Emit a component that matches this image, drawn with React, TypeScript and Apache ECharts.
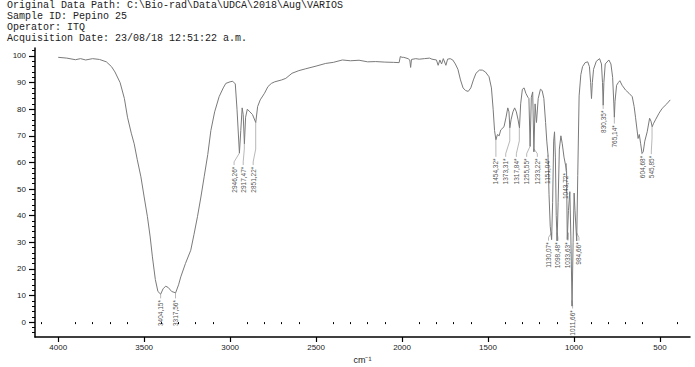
import React, { useEffect, useRef } from "react";
import * as echarts from "echarts";

const headerLines = [
  "Original Data Path: C:\\Bio-rad\\Data\\UDCA\\2018\\Aug\\VARIOS",
  "Sample ID: Pepino 25",
  "Operator: ITQ",
  "Acquisition Date: 23/08/18 12:51:22 a.m.",
];

const wavenumbers = [
  4000, 3950, 3900, 3870, 3840, 3800, 3760, 3720, 3690, 3670, 3640, 3615, 3597, 3575, 3558, 3540,
  3519, 3500, 3481, 3465, 3452, 3435, 3420, 3404, 3390, 3375, 3360, 3340, 3317, 3300, 3287, 3260,
  3229, 3210, 3190, 3170, 3151, 3130, 3112, 3090, 3064, 3040, 3025, 3000, 2985, 2970, 2960, 2946,
  2938, 2930, 2924, 2917, 2910, 2900, 2885, 2870, 2851, 2840, 2825, 2800, 2780, 2760, 2740, 2700,
  2676, 2640, 2600, 2560, 2500, 2444, 2400, 2347, 2300, 2250, 2200, 2153, 2100, 2050, 2017, 2010,
  2000, 1990, 1965, 1955, 1950, 1945, 1920, 1900, 1870, 1840, 1826, 1800, 1790, 1780, 1770, 1760,
  1745, 1735, 1720, 1705, 1690, 1675, 1660, 1645, 1630, 1615, 1600, 1585, 1570, 1550, 1533, 1515,
  1494, 1480, 1470, 1462, 1454, 1445, 1435, 1426, 1407, 1395, 1385, 1378, 1373, 1366, 1355, 1345,
  1335, 1325, 1317, 1310, 1300, 1290, 1280, 1268, 1262, 1255, 1248, 1240, 1233, 1226, 1218, 1208,
  1195, 1185, 1175, 1165, 1158, 1151, 1145, 1138, 1130, 1124, 1118, 1113, 1108, 1103, 1098, 1092,
  1085, 1076, 1068, 1058, 1049, 1043, 1039, 1032, 1024, 1018, 1011, 1005, 999, 994, 984, 978,
  970, 960, 950, 935, 920, 910, 903, 898, 893, 886, 870, 851, 840, 834, 830, 826,
  818, 797, 785, 775, 768, 765, 761, 752, 742, 733, 720, 700, 680, 661, 650, 642,
  627, 620, 612, 604, 597, 588, 574, 560, 552, 545, 538, 526, 505, 487, 460, 440,
];

const transmittance = [
  99.5, 99.2, 98.6, 99, 98.5, 99, 98.7, 97.8, 96, 94, 90, 84, 77, 71, 67, 61,
  54.6, 47, 39.6, 32, 24.5, 16, 11.5, 10.5, 12.5, 13.5, 13, 11.5, 11, 14, 17, 22,
  27, 33, 39.6, 47, 54.6, 63, 72, 79, 84.7, 88, 89.7, 90.3, 90.5, 89.5, 80, 63.5,
  72, 80.5, 78, 67, 77, 80, 79, 78, 75, 81, 83.5, 86, 88.5, 89.7, 90.3, 91,
  91.6, 93.5, 94.5, 95.2, 96.2, 97.2, 97.6, 98.5, 98.2, 98.4, 97.8, 97.9, 97.7, 97.6, 97.5, 99.8,
  99.5, 99.5, 99, 98.5, 95.7, 98.7, 99, 98.8, 99, 99.2, 98.8, 98.5, 96.5, 98.5, 97, 99,
  96.5, 98.8, 99, 98.5, 97, 95, 91, 88, 87, 86.7, 88, 91, 93.5, 94.7, 94.7, 94,
  92.2, 88, 80, 72, 68.5, 70.5, 70, 72.2, 73.4, 77, 80.5, 79, 73, 76, 79, 80.5,
  79, 76, 73, 82, 87.5, 88, 86, 84.5, 84, 66, 84.5, 86.5, 64, 82, 75, 84,
  87.5, 87, 84, 75, 68, 63, 48, 36, 31, 45, 68, 71.5, 62, 40, 30.5, 45,
  65, 70, 67, 62, 59, 57, 31, 42, 49, 32, 6, 30, 48.5, 42, 30.5, 55,
  85, 93, 96, 97.5, 97.8, 96, 90, 84, 90, 95, 98, 99, 97, 90, 81.5, 90,
  97, 98.5, 97, 92, 82, 77, 83, 89, 90, 90.7, 89, 87.2, 86, 84.7, 81, 77,
  69, 70.5, 67, 63.4, 64, 68, 71.5, 76.6, 75.5, 73.4, 74.5, 76, 78.5, 80.3, 82, 83.5,
];

const peakLabels = [
  "3404,15*", "3317,56*", "2946,26*", "2917,47*", "2851,22*", "1454,32*", "1373,31*",
  "1317,84*", "1255,55*", "1233,22*", "1151,04*", "1130,07*", "1098,48*", "1043,72*",
  "1033,63*", "1011,66*", "984,66*", "830,35*", "765,14*", "604,68*", "545,85*",
];
const peakWavenumbers = [
  3404.15, 3317.56, 2946.26, 2917.47, 2851.22, 1454.32, 1373.31, 1317.84, 1255.55, 1233.22,
  1151.04, 1130.07, 1098.48, 1043.72, 1033.63, 1011.66, 984.66, 830.35, 765.14, 604.68, 545.85,
];
const peakValues = [
  10.5, 11, 63.5, 67, 75, 68.5, 73, 73, 66, 64, 63, 31, 30.5, 57, 31, 6, 30.5, 81.5, 77, 63.4, 73.4,
];
const labelWavenumbers = [
  3404.15, 3317.56, 2977, 2924, 2866, 1454, 1397, 1335, 1275, 1213, 1151, 1148, 1093, 1047,
  1035, 1008, 971, 830, 765, 604, 550,
];
const labelValues = [
  8.3, 8.3, 58.4, 58.4, 58.4, 61.5, 61.5, 61.5, 61.5, 61.5, 61.5, 30, 30, 56, 30, 4.5, 30,
  79.5, 74, 62.5, 62.5,
];

const xMajorTicks = [4000, 3500, 3000, 2500, 2000, 1500, 1000, 500];
const xMinorTicks = [
  4100, 3900, 3800, 3700, 3600, 3400, 3300, 3200, 3100, 2900, 2800, 2700, 2600, 2400, 2300,
  2200, 2100, 1900, 1800, 1700, 1600, 1400, 1300, 1200, 1100, 900, 800, 700, 600, 400,
];
const yMajorTicks = [0, 10, 20, 30, 40, 50, 60, 70, 80, 90, 100];
const yMinorTicks = [
  -4, -2, 2, 4, 6, 8, 12, 14, 16, 18, 22, 24, 26, 28, 32, 34, 36, 38, 42, 44, 46, 48, 52, 54,
  56, 58, 62, 64, 66, 68, 72, 74, 76, 78, 82, 84, 86, 88, 92, 94, 96, 98, 102,
];

const X_MIN = 325;
const X_MAX = 4135;
const Y_MIN = -5.6;
const Y_MAX = 103;

export default function App() {
  const ref = useRef<HTMLDivElement>(null);
  useEffect(() => {
    if (!ref.current) return;
    const chart = echarts.init(ref.current, undefined, { renderer: "svg" });
    const sans = "'Liberation Sans', Arial, sans-serif";
    const narrow = "'Liberation Sans Narrow', 'Liberation Sans', Arial, sans-serif";

    const lineData = wavenumbers.map((w, i) => [w, transmittance[i]]);
    const leaderData = peakWavenumbers.map((w, i) => {
      const lw = labelWavenumbers[i];
      const lv = labelValues[i] + 0.6;
      const v = peakValues[i];
      const coords: number[][] = [[w, v]];
      if (Math.abs(lw - w) > 1) {
        coords.push([w, Math.max(lv + 3, Math.min(v, lv + 6))]);
        coords.push([lw, lv + 1.2]);
      }
      coords.push([lw, lv]);
      return { coords };
    });
    const labelData = labelWavenumbers.map((w, i) => [w, labelValues[i], peakLabels[i]]);

    const baseX = {
      type: "value",
      inverse: true,
      min: X_MIN,
      max: X_MAX,
      position: "bottom",
      splitLine: { show: false },
    };
    const baseY = {
      type: "value",
      min: Y_MIN,
      max: Y_MAX,
      position: "left",
      splitLine: { show: false },
    };

    chart.setOption({
      animation: false,
      backgroundColor: "#ffffff",
      grid: { left: 35, right: 5, top: 48, bottom: 30, outerBoundsMode: "none", containLabel: false },
      graphic: [
        {
          type: "text",
          left: 7,
          top: 0,
          style: {
            text: headerLines.join("\n"),
            font: "10px 'Liberation Mono', 'DejaVu Sans Mono', monospace",
            lineHeight: 11,
            fill: "#222",
          },
        },
      ],
      xAxis: [
        {
          ...baseX,
          name: "cm⁻¹",
          nameLocation: "middle",
          nameGap: 17,
          nameTextStyle: { fontSize: 9, color: "#222", fontFamily: sans },
          axisLine: { show: true, onZero: false, lineStyle: { color: "#000", width: 1.5 } },
          axisTick: { show: true, customValues: xMajorTicks, length: 5, lineStyle: { color: "#000", width: 1.2 } },
          axisLabel: {
            show: true,
            customValues: xMajorTicks,
            fontSize: 8,
            color: "#222",
            margin: 6,
            fontFamily: sans,
            formatter: (v: number) => String(v),
          },
        },
        {
          ...baseX,
          axisLine: { show: false },
          axisTick: { show: true, customValues: xMinorTicks, length: 2, lineStyle: { color: "#000", width: 1 } },
          axisLabel: { show: false },
        },
      ],
      yAxis: [
        {
          ...baseY,
          axisLine: { show: true, onZero: false, lineStyle: { color: "#000", width: 1.5 } },
          axisTick: { show: true, customValues: yMajorTicks, length: 6, lineStyle: { color: "#000", width: 1.2 } },
          axisLabel: {
            show: true,
            customValues: yMajorTicks,
            fontSize: 8,
            color: "#222",
            margin: 9,
            fontFamily: sans,
            formatter: (v: number) => String(v),
          },
        },
        {
          ...baseY,
          axisLine: { show: false },
          axisTick: { show: true, customValues: yMinorTicks, length: 3, lineStyle: { color: "#000", width: 1 } },
          axisLabel: { show: false },
        },
      ],
      series: [
        {
          type: "line",
          xAxisIndex: 0,
          yAxisIndex: 0,
          data: lineData,
          showSymbol: false,
          symbol: "none",
          lineStyle: { color: "#7a7a7a", width: 1 },
          z: 3,
        },
        {
          type: "lines",
          coordinateSystem: "cartesian2d",
          xAxisIndex: 0,
          yAxisIndex: 0,
          polyline: true,
          data: leaderData,
          lineStyle: { color: "#9a9a9a", width: 0.7, opacity: 1 },
          z: 2,
        },
        {
          type: "scatter",
          xAxisIndex: 0,
          yAxisIndex: 0,
          data: labelData,
          symbolSize: 0,
          itemStyle: { color: "#222" },
          label: {
            show: true,
            position: [0, 0],
            rotate: 90,
            align: "right",
            verticalAlign: "middle",
            fontSize: 6.5,
            fontFamily: narrow,
            color: "#222",
            formatter: (p: any) => p.data[2],
          },
          z: 4,
        },
      ],
    });
    return () => chart.dispose();
  }, []);
  return (
    <div
      ref={ref}
      style={{ position: "fixed", left: 0, top: 0, width: 695, height: 367, background: "#fff" }}
    />
  );
}
